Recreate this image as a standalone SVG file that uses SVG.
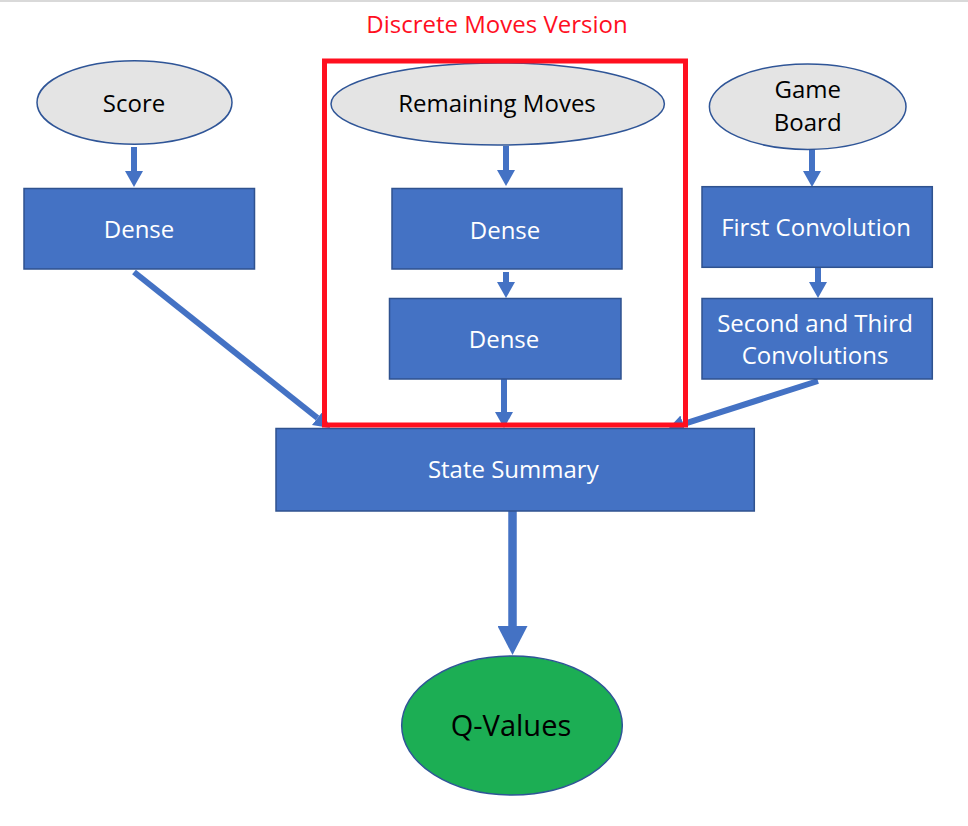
<svg xmlns="http://www.w3.org/2000/svg" width="968" height="826" viewBox="0 0 968 826">
  <defs>
    <style>
      .box { fill: #4472c4; stroke: #2f528f; stroke-width: 1.5; }
      .inp { fill: #e4e4e4; stroke: #2f5597; stroke-width: 1.5; }
      .out { fill: #1cae54; stroke: #2f5597; stroke-width: 1.5; }
      .wt { font-family: "Open Sans", "Noto Sans", "Liberation Sans", sans-serif; font-size: 24px; fill: #ffffff; text-anchor: middle; }
      .bt { font-family: "Open Sans", "Noto Sans", "Liberation Sans", sans-serif; font-size: 24px; fill: #000000; text-anchor: middle; }
      .conn { stroke: #4472c4; stroke-width: 6; fill: none; }
      .big { stroke: #4472c4; stroke-width: 8.5; fill: none; }
    </style>
    <marker id="ah" markerUnits="userSpaceOnUse" viewBox="0 0 16 18" refX="0" refY="9" markerWidth="16" markerHeight="18" orient="auto">
      <path d="M0,0 L16,9 L0,18 z" fill="#4472c4"/>
    </marker>
    <marker id="ahBig" markerUnits="userSpaceOnUse" viewBox="0 0 29 30" refX="0" refY="15" markerWidth="29" markerHeight="30" orient="auto">
      <path d="M0,0 L29,15 L0,30 z" fill="#4472c4"/>
    </marker>
  </defs>
  <rect x="0" y="0" width="968" height="826" fill="#ffffff"/>
  <rect x="0" y="0" width="968" height="2" fill="#d9d9d9"/>

  <g id="connectors">
    <line class="conn" x1="134" y1="147" x2="134" y2="171" marker-end="url(#ah)"/>
    <line class="conn" x1="506" y1="146" x2="506" y2="170" marker-end="url(#ah)"/>
    <line class="conn" x1="506" y1="272" x2="506" y2="282" marker-end="url(#ah)"/>
    <line class="conn" x1="504" y1="379" x2="504" y2="412" marker-end="url(#ah)"/>
    <line class="conn" x1="812" y1="147" x2="812" y2="171" marker-end="url(#ah)"/>
    <line class="conn" x1="818" y1="267" x2="818" y2="282" marker-end="url(#ah)"/>
    <line class="conn" x1="134" y1="272" x2="317.5" y2="418" marker-end="url(#ah)"/>
    <line class="conn" x1="818" y1="381" x2="683.2" y2="424.1" marker-end="url(#ah)"/>
    <line class="big" x1="512.5" y1="511" x2="512.5" y2="626" marker-end="url(#ahBig)"/>
  </g>

  <g id="score">
    <ellipse class="inp" cx="134.5" cy="102.5" rx="97.5" ry="41.7"/>
    <text class="bt" x="134" y="112">Score</text>
  </g>
  <g id="dense-score">
    <rect class="box" x="24" y="188.5" width="230.5" height="80.5"/>
    <text class="wt" x="139" y="237.5">Dense</text>
  </g>

  <g id="remaining-moves">
    <ellipse class="inp" cx="497.7" cy="104" rx="166.7" ry="41"/>
    <text class="bt" x="497" y="112">Remaining Moves</text>
  </g>
  <g id="dense-moves-1">
    <rect class="box" x="392" y="188.5" width="230" height="80.5"/>
    <text class="wt" x="505" y="238.5">Dense</text>
  </g>
  <g id="dense-moves-2">
    <rect class="box" x="389.5" y="298.5" width="231.5" height="80.5"/>
    <text class="wt" x="504" y="348">Dense</text>
  </g>

  <g id="game-board">
    <ellipse class="inp" cx="807.7" cy="106.7" rx="98.3" ry="42.7"/>
    <text class="bt" x="807.7" y="98">Game</text>
    <text class="bt" x="807.7" y="130.5">Board</text>
  </g>
  <g id="first-convolution">
    <rect class="box" x="702" y="186.7" width="230.3" height="80.6"/>
    <text class="wt" x="816" y="236">First Convolution</text>
  </g>
  <g id="second-third-convolutions">
    <rect class="box" x="702" y="298.5" width="230.3" height="80.5"/>
    <text class="wt" x="815" y="332">Second and Third</text>
    <text class="wt" x="815" y="363.5">Convolutions</text>
  </g>

  <g id="state-summary">
    <rect class="box" x="276" y="428.5" width="478.3" height="82.5"/>
    <text class="wt" x="513.3" y="477.5">State Summary</text>
  </g>

  <g id="q-values">
    <ellipse class="out" cx="512" cy="725.5" rx="110.3" ry="69.5"/>
    <text class="bt" x="511" y="735.5" style="font-size:29px">Q-Values</text>
  </g>

  <g id="discrete-moves-highlight">
    <rect x="324.5" y="61" width="361" height="364" fill="none" stroke="#ff0f1f" stroke-width="5"/>
    <text x="497" y="33" style="font-family:'Open Sans','Noto Sans','Liberation Sans',sans-serif;font-size:24px;fill:#ff0f1f;text-anchor:middle">Discrete Moves Version</text>
  </g>
</svg>
